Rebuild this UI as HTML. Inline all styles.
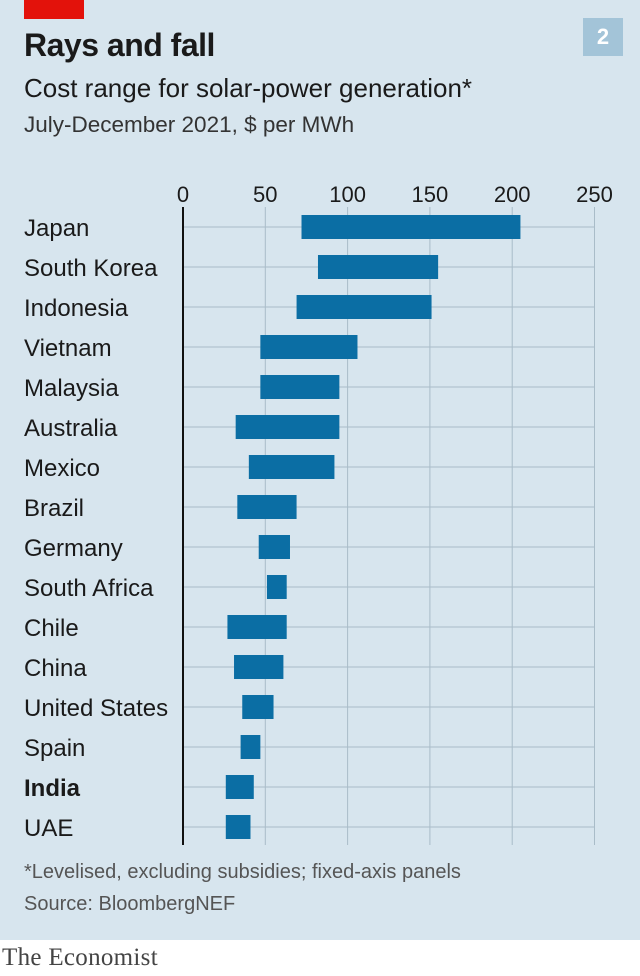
<!DOCTYPE html>
<html><head><meta charset="utf-8"><style>
body{margin:0;width:640px;height:976px;overflow:hidden;background:#fff;font-family:"Liberation Sans",sans-serif}
#panel{position:absolute;left:0;top:0;width:640px;height:940px;background:#d7e5ee}
.t{position:absolute;white-space:nowrap;color:#1a1a1a}
</style></head><body>
<div id="panel"></div>
<div style="position:absolute;left:24px;top:0;width:60px;height:19px;background:#e3120b"></div>
<div class="t" style="left:24px;top:27px;font-size:32px;font-weight:bold;letter-spacing:-0.5px">Rays and fall</div>
<div class="t" style="left:24px;top:73px;font-size:26px">Cost range for solar-power generation*</div>
<div class="t" style="left:24px;top:112px;font-size:22.5px;color:#333">July-December 2021, $ per MWh</div>
<div style="position:absolute;left:583px;top:18px;width:40px;height:38px;background:#a3c4d8;color:#fff;font-weight:bold;font-size:22px;text-align:center;line-height:38px">2</div>
<svg id="chart" width="640" height="976" style="position:absolute;left:0;top:0"></svg>
<div class="t" style="left:24px;top:861px;font-size:20px;color:#555">*Levelised, excluding subsidies; fixed-axis panels</div>
<div class="t" style="left:24px;top:893px;font-size:20px;color:#555">Source: BloombergNEF</div>
<div class="t" style="left:2px;top:944px;font-size:25px;font-family:'Liberation Serif',serif;color:#444;letter-spacing:0.3px">The Economist</div>
<script>
const countries=["Japan","South Korea","Indonesia","Vietnam","Malaysia","Australia","Mexico","Brazil","Germany","South Africa","Chile","China","United States","Spain","India","UAE"];
const lows=[72,82,69,47,47,32,40,33,46,51,27,31,36,35,26,26];
const highs=[205,155,151,106,95,95,92,69,65,63,63,61,55,47,43,41];
const ticks=[0,50,100,150,200,250];
const svg=document.getElementById('chart');
const NS='http://www.w3.org/2000/svg';
const x=v=>183+v*1.646;
const y=i=>227+i*40;
function mk(t,a){const e=document.createElementNS(NS,t);for(const k in a)e.setAttribute(k,a[k]);svg.appendChild(e);return e;}
ticks.forEach(v=>{
 if(v>0){const g=mk('line',{x1:x(v),x2:x(v),y1:207,y2:845,stroke:'#a9bcc8','stroke-width':1});
 
 }
 const t=mk('text',{x:x(v),y:202,'text-anchor':'middle','font-size':22,fill:'#1a1a1a','font-family':'Liberation Sans, sans-serif'});
 t.textContent=v;
 
 
});
countries.forEach((c,i)=>{
 const l=mk('line',{x1:183,x2:x(250),y1:y(i),y2:y(i),stroke:'#a9bcc8','stroke-width':1});
 
 
 const r=mk('rect',{x:x(lows[i]),y:y(i)-12,width:x(highs[i])-x(lows[i]),height:24,fill:'#0b6ea4'});
 
 
 const t=mk('text',{x:24,y:y(i)+9,'font-size':24,fill:'#1a1a1a','font-family':'Liberation Sans, sans-serif','font-weight':c==='India'?'bold':'normal'});
 t.textContent=c;
 
 
});
const ax=mk('line',{x1:183,x2:183,y1:207,y2:845,stroke:'#111','stroke-width':2});


</script>
</body></html>
